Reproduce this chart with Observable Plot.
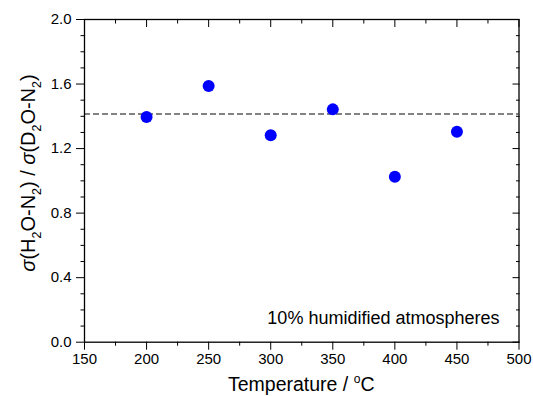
<!DOCTYPE html>
<html><head><meta charset="utf-8">
<script src="https://cdn.jsdelivr.net/npm/d3@7"></script>
<script src="https://cdn.jsdelivr.net/npm/@observablehq/plot@0.6"></script>
<style>body{margin:0;background:#fff} #chart{width:533px;height:396px}</style>
</head><body><div id="chart"></div>
<script>
const temperatures = [200, 250, 300, 350, 400, 450];
const ratios = [1.395, 1.588, 1.283, 1.443, 1.025, 1.305];
const referenceRatio = [1.414];
const xMajorTicks = [150, 200, 250, 300, 350, 400, 450, 500];
const xMinorTicks = [175, 225, 275, 325, 375, 425, 475];
const yMajorTicks = [0, 0.4, 0.8, 1.2, 1.6, 2.0];
const yMinorTicks = [0.1, 0.2, 0.3, 0.5, 0.6, 0.7, 0.9, 1.0, 1.1, 1.3, 1.4, 1.5, 1.7, 1.8, 1.9];
const annotation = "10% humidified atmospheres";
const xTitle = [{t: "Temperature / "}, {t: "o", sup: true}, {t: "C"}];
const yTitle = [{t: "σ", it: true}, {t: "(H"}, {t: "2", sub: true}, {t: "O-N"}, {t: "2", sub: true}, {t: ") / "},
                {t: "σ", it: true}, {t: "(D"}, {t: "2", sub: true}, {t: "O-N"}, {t: "2", sub: true}, {t: ")"}];

const data = temperatures.map((t, i) => ({t, r: ratios[i]}));
const W = 533, H = 396, mL = 84, mR = 14.5, mT = 19, mB = 54.3;
const blank = () => "";
const plot = Plot.plot({
  width: W, height: H, marginLeft: mL, marginRight: mR, marginTop: mT, marginBottom: mB,
  style: {fontFamily: "'Liberation Sans', Arial, sans-serif", fontSize: "15px", color: "#000", background: "#fff"},
  x: {domain: [150, 500]},
  y: {domain: [0, 2]},
  marks: [
    Plot.ruleY(referenceRatio, {stroke: "#5a5a5a", strokeWidth: 1.5, strokeDasharray: "6,3"}),
    Plot.dot(data, {x: "t", y: "r", r: 6, fill: "#0000ff", stroke: null}),
    Plot.text([annotation], {frameAnchor: "bottom-right", textAnchor: "end", lineAnchor: "bottom", dx: -19.5, dy: -18.7, fontSize: 18, fill: "#000"}),
    Plot.axisX(xMajorTicks, {anchor: "bottom", tickSize: 8, tickPadding: 3, tickFormat: d => String(d), label: null, fontSize: 15, stroke: "#000"}),
    Plot.axisX(xMinorTicks, {anchor: "bottom", tickSize: 4, tickFormat: blank, label: null, stroke: "#000"}),
    Plot.axisX(xMajorTicks, {anchor: "top", tickSize: -7, tickFormat: blank, label: null, stroke: "#000"}),
    Plot.axisX(xMinorTicks, {anchor: "top", tickSize: -3.5, tickFormat: blank, label: null, stroke: "#000"}),
    Plot.axisY(yMajorTicks, {anchor: "left", tickSize: 8, tickPadding: 5, tickFormat: d => d.toFixed(1), label: null, fontSize: 15, stroke: "#000"}),
    Plot.axisY(yMinorTicks, {anchor: "left", tickSize: 3.5, tickFormat: blank, label: null, stroke: "#000"}),
    Plot.axisY(yMajorTicks, {anchor: "right", tickSize: -7, tickFormat: blank, label: null, stroke: "#000"}),
    Plot.axisY(yMinorTicks, {anchor: "right", tickSize: -3.5, tickFormat: blank, label: null, stroke: "#000"}),
    Plot.frame({stroke: "#000", strokeWidth: 1.3})
  ]
});

function richText(sel, parts, size) {
  parts.forEach(p => {
    const ts = sel.append("tspan").text(p.t);
    if (p.it) ts.attr("font-style", "italic");
    if (p.sub) ts.attr("font-size", size * 0.62).attr("dy", size * 0.28);
    if (p.sup) ts.attr("font-size", size * 0.62).attr("dy", -size * 0.42);
    if (p.sub || p.sup) ts.attr("data-shift", p.sub ? size * 0.28 : -size * 0.42);
  });
  const spans = sel.selectAll("tspan").nodes();
  for (let i = 1; i < spans.length; i++) {
    const prev = spans[i - 1].getAttribute("data-shift");
    if (prev) d3.select(spans[i]).attr("dy", -(+prev));
  }
}

const svg = d3.select(plot);
const cx = (mL + (W - mR)) / 2;
const xfs = 19.5, yfs = 20;
const xl = svg.append("text").attr("x", cx).attr("y", 391).attr("text-anchor", "middle")
  .attr("font-size", xfs).attr("fill", "#000");
richText(xl, xTitle, xfs);
const yl = svg.append("text").attr("transform", "translate(35,173) rotate(-90)").attr("text-anchor", "middle")
  .attr("font-size", yfs).attr("fill", "#000");
richText(yl, yTitle, yfs);

document.getElementById("chart").appendChild(plot);
</script>
</body></html>
